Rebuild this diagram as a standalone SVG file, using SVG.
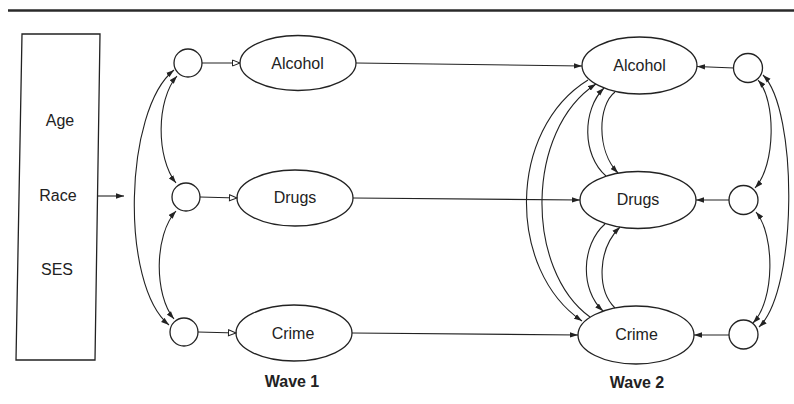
<svg xmlns="http://www.w3.org/2000/svg" width="794" height="404" viewBox="0 0 794 404">
<style>
.node{fill:#fff;stroke:#222;stroke-width:1.3}
.lbl{font-family:"Liberation Sans",Arial,sans-serif;font-size:16px;fill:#222;text-anchor:middle}
.wave{font-family:"Liberation Sans",Arial,sans-serif;font-size:16px;font-weight:bold;fill:#222;text-anchor:middle}
.c{fill:none;stroke:#222;stroke-width:1.1}
.f{marker-end:url(#arr)}
.h{marker-end:url(#oarr)}
.d{marker-start:url(#arr);marker-end:url(#arr)}
</style>
<defs>
<marker id="arr" markerUnits="userSpaceOnUse" markerWidth="9" markerHeight="6" refX="8" refY="3" orient="auto-start-reverse">
<path d="M0,0.3 L8,3 L0,5.7 z" fill="#222"/>
</marker>
<marker id="oarr" markerUnits="userSpaceOnUse" markerWidth="10" markerHeight="8" refX="8.5" refY="4" orient="auto">
<path d="M1,1 L8.5,4 L1,7 z" fill="#fff" stroke="#222" stroke-width="1"/>
</marker>
</defs>
<rect width="794" height="404" fill="#fff"/>
<line x1="8" y1="10.5" x2="794" y2="10.5" stroke="#2a2a2a" stroke-width="2.5"/>

<g id="covariates">
<polygon class="node" points="22,34 100,34 95,360 16,360"/>
<text class="lbl" x="60" y="126">Age</text>
<text class="lbl" x="58" y="201">Race</text>
<text class="lbl" x="57" y="275">SES</text>
</g>

<g id="w1-res-alcohol"><circle class="node" cx="188" cy="63" r="14"/></g>
<g id="w1-res-drugs"><circle class="node" cx="186" cy="197" r="14"/></g>
<g id="w1-res-crime"><circle class="node" cx="184" cy="332" r="14"/></g>

<g id="w1-alcohol"><ellipse class="node" cx="298" cy="63" rx="58" ry="27.5"/><text class="lbl" x="297.5" y="68.5">Alcohol</text></g>
<g id="w1-drugs"><ellipse class="node" cx="295" cy="198" rx="58" ry="28"/><text class="lbl" x="295" y="203">Drugs</text></g>
<g id="w1-crime"><ellipse class="node" cx="294" cy="333" rx="58" ry="28"/><text class="lbl" x="293" y="338.5">Crime</text></g>

<g id="w2-alcohol"><ellipse class="node" cx="639.5" cy="65.5" rx="57.5" ry="28.5"/><text class="lbl" x="639.5" y="71">Alcohol</text></g>
<g id="w2-drugs"><ellipse class="node" cx="638" cy="200" rx="58" ry="28.5"/><text class="lbl" x="638" y="205">Drugs</text></g>
<g id="w2-crime"><ellipse class="node" cx="636" cy="335" rx="58" ry="29"/><text class="lbl" x="636.5" y="340">Crime</text></g>

<g id="w2-res-alcohol"><circle class="node" cx="748" cy="68" r="14.5"/></g>
<g id="w2-res-drugs"><circle class="node" cx="743.5" cy="200" r="14.5"/></g>
<g id="w2-res-crime"><circle class="node" cx="743.5" cy="334.5" r="14.5"/></g>

<g id="labels">
<text class="wave" x="292" y="387">Wave 1</text>
<text class="wave" x="637" y="388">Wave 2</text>
</g>

<g id="connectors">
<path class="c f" d="M97,196 L124,196"/>
<path class="c h" d="M202,63 L240,63"/>
<path class="c h" d="M200,197 L237,198"/>
<path class="c h" d="M198,332 L236,333"/>
<path class="c d" d="M177,76 C156,100 156,158 176,183"/>
<path class="c d" d="M176,211 C154,235 154,295 174,319"/>
<path class="c d" d="M174,70 C124,110 120,285 169,325"/>
<path class="c f" d="M356,63 L582,66"/>
<path class="c f" d="M353,198 L580,200"/>
<path class="c f" d="M352,333 L578,335"/>
<path class="c f" d="M734,68 L697,66.5"/>
<path class="c f" d="M729,200 L696,200"/>
<path class="c f" d="M729,335 L694,335"/>
<path class="c d" d="M758,80 C776,100 776,165 755,188"/>
<path class="c d" d="M756,212 C775,235 775,300 753,323"/>
<path class="c d" d="M763,75 C798,110 798,290 759,327"/>
<path class="c f" d="M588,80 C507,130 507,270 582,321"/>
<path class="c f" d="M590,317 C525,270 525,130 596,84"/>
<path class="c f" d="M606,176 C582,155 582,110 604,88"/>
<path class="c f" d="M615,92 C598,105 596,150 618,173"/>
<path class="c f" d="M605,224 C581,245 580,290 603,311"/>
<path class="c f" d="M615,308 C597,290 597,250 620,227"/>
</g>
</svg>
